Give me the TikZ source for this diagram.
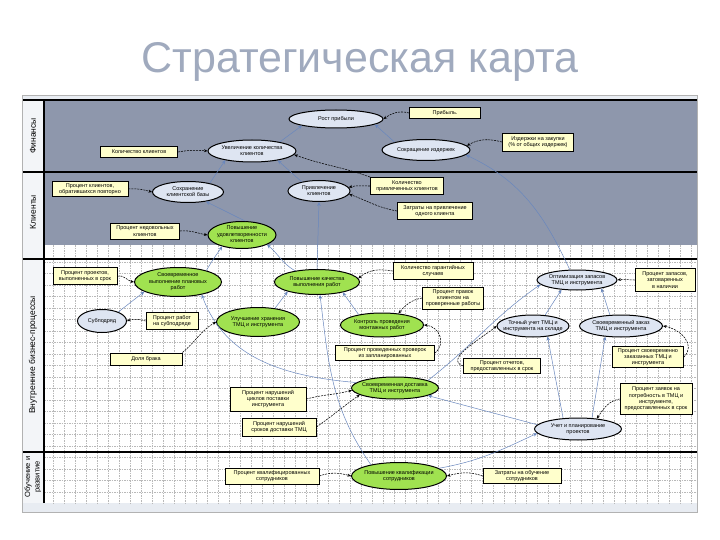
\documentclass[tikz,border=0pt]{standalone}
\usepackage{fontspec}
\setmainfont{Liberation Sans}
\usetikzlibrary{shapes.geometric,arrows.meta}
\definecolor{lanegray}{RGB}{142,151,172}
\definecolor{measfill}{RGB}{255,255,204}
\definecolor{objblue}{RGB}{222,229,242}
\definecolor{objgreen}{RGB}{160,226,80}
\definecolor{causeblue}{RGB}{105,135,190}
\definecolor{titlecol}{RGB}{160,170,190}
\definecolor{bandcol}{RGB}{232,236,242}
\definecolor{labcol}{RGB}{243,245,248}
\definecolor{gridcol}{RGB}{185,185,185}
\newcommand\ztxt[1]{\makebox[0pt]{\begin{tabular}{@{}c@{}}#1\end{tabular}}}
\begin{document}
\begin{tikzpicture}[x=1pt,y=-1pt,
  every node/.style={font=\fontsize{5.5}{6.3}\selectfont},
  objb/.style={ellipse, draw=black, line width=1pt, fill=objblue, inner sep=0pt},
  objg/.style={ellipse, draw=black, line width=1pt, fill=objgreen, inner sep=0pt},
  meas/.style={rectangle, draw=black, line width=0.9pt, fill=measfill, inner sep=0.5pt, align=center},
  cause/.style={draw=causeblue, line width=0.5pt, -{Stealth[length=4pt,width=3.5pt]}},
  mline/.style={draw=black, line width=0.55pt, dash pattern=on 2pt off 1pt, -{Stealth[length=3.5pt,width=3pt]}},
  lanelab/.style={rotate=90, font=\fontsize{8.5}{10}\selectfont, align=center},
  gridline/.style={draw=gridcol, line width=0.4pt, dash pattern=on 1.5pt off 1pt},
]
\useasboundingbox (0,0) rectangle (720,540);
\fill[white] (0,0) rectangle (720,540);
% title
\node[font=\fontsize{43}{48}\selectfont, text=titlecol] (title) at (360,62) {Стратегическая карта};
% backgrounds
\fill[bandcol] (22,95) rectangle (697,100);
\fill[bandcol] (22,503) rectangle (697,512);
\fill[labcol] (22,100) rectangle (44,503);
\fill[lanegray] (44,100) rectangle (697,245);
% grid
\foreach \gx in {53,64,...,696} \draw[gridline] (\gx,245) -- (\gx,503);
\foreach \gy in {262,273.5,...,502} \draw[gridline] (44,\gy) -- (697,\gy);
% separators
\draw[line width=1.8pt] (22,100) -- (697,100);
\draw[line width=1.8pt] (22,172) -- (697,172);
\draw[line width=1.8pt] (22,259) -- (697,259);
\draw[line width=1.8pt] (22,452) -- (697,452);
\draw[line width=1.4pt] (44,100) -- (44,503);
\draw[gray!60, line width=0.4pt] (22,95) rectangle (697,512);
% lane labels
\node[lanelab] (lFin) at (33,136) {Финансы};
\node[lanelab] (lKl) at (33,212) {Клиенты};
\node[lanelab] (lVn) at (33,355) {Внутренние бизнес-процессы};
\node[lanelab, font=\fontsize{7.5}{9.5}\selectfont] (lOb) at (33,477) {Обучение и\\развитие};
% objectives
\node[objb, minimum width=94pt, minimum height=18pt] (rost) at (336,119) {\ztxt{Рост прибыли}};
\node[objb, minimum width=88pt, minimum height=22pt] (uvel) at (252,151) {\ztxt{Увеличение количества\\клиентов}};
\node[objb, minimum width=88pt, minimum height=21pt] (sokr) at (426,150) {\ztxt{Сокращение издержек}};
\node[objb, minimum width=71pt, minimum height=21pt] (sohr) at (188,192) {\ztxt{Сохранение\\клиентской базы}};
\node[objb, minimum width=62pt, minimum height=21pt] (priv) at (319,191) {\ztxt{Привлечение\\клиентов}};
\node[objg, minimum width=68pt, minimum height=27pt] (udov) at (242,235) {\ztxt{Повышение\\удовлетворенности\\клиентов}};
\node[objg, minimum width=87pt, minimum height=29pt] (svvyp) at (178,282) {\ztxt{Своевременное\\выполнение плановых\\работ}};
\node[objb, minimum width=49pt, minimum height=23pt] (subp) at (102,321) {\ztxt{Субподряд}};
\node[objg, minimum width=83pt, minimum height=29pt] (hran) at (258,322) {\ztxt{Улучшение хранения\\ТМЦ и инструмента}};
\node[objg, minimum width=85pt, minimum height=25pt] (kach) at (317,282) {\ztxt{Повышение качества\\выполнения работ}};
\node[objg, minimum width=83pt, minimum height=24pt] (kontr) at (382,325) {\ztxt{Контроль проведения\\монтажных работ}};
\node[objb, minimum width=80pt, minimum height=20pt] (opt) at (577,280) {\ztxt{Оптимизация запасов\\ТМЦ и инструмента}};
\node[objb, minimum width=72pt, minimum height=22pt] (uchet) at (533,326) {\ztxt{Точный учет ТМЦ и\\инструмента на складе}};
\node[objb, minimum width=83pt, minimum height=22pt] (zakaz) at (621,326) {\ztxt{Своевременный заказ\\ТМЦ и инструмента}};
\node[objg, minimum width=87pt, minimum height=22pt] (dost) at (395,388) {\ztxt{Своевременная доставка\\ТМЦ и инструмента}};
\node[objb, minimum width=87pt, minimum height=22pt] (plan) at (578,429) {\ztxt{Учет и планирование\\проектов}};
\node[objg, minimum width=95pt, minimum height=27pt] (kval) at (399,476) {\ztxt{Повышение квалификации\\сотрудников}};
% measures
\node[meas, minimum width=71pt, minimum height=11pt] (mPrib) at (445,113) {Прибыль.};
\node[meas, minimum width=77pt, minimum height=11pt] (mKolKl) at (139,152) {Количество клиентов};
\node[meas, minimum width=71pt, minimum height=18pt] (mIzd) at (538,142) {Издержки на закупки\\(\% от общих издержек)};
\node[meas, minimum width=76pt, minimum height=15pt] (mPovt) at (90,189) {Процент клиентов,\\обратившихся повторно};
\node[meas, minimum width=73pt, minimum height=17pt] (mKolPriv) at (407,186) {Количество\\привлеченных клиентов};
\node[meas, minimum width=75pt, minimum height=17pt] (mZatrPriv) at (435,211) {Затраты на привлечение\\одного клиента};
\node[meas, minimum width=69pt, minimum height=16pt] (mNedov) at (145,231) {Процент недовольных\\клиентов};
\node[meas, minimum width=64pt, minimum height=17pt] (mSrok) at (85,276) {Процент проектов,\\выполненных в срок};
\node[meas, minimum width=52pt, minimum height=17pt] (mSubp) at (172,321) {Процент работ\\на субподряде};
\node[meas, minimum width=72pt, minimum height=12pt] (mBrak) at (146,359) {Доля брака};
\node[meas, minimum width=80pt, minimum height=17pt] (mGar) at (433,271) {Количество гарантийных\\случаев};
\node[meas, minimum width=61pt, minimum height=22pt] (mPravok) at (453,298) {Процент правок\\клиентом на\\проверенные работы};
\node[meas, minimum width=99pt, minimum height=15pt] (mProv) at (385,353) {Процент проведенных проверок\\из запланированных};
\node[meas, minimum width=60pt, minimum height=23pt] (mZap) at (665,280) {Процент запасов,\\затоваренных\\в наличии};
\node[meas, minimum width=71pt, minimum height=21pt] (mZak) at (648,357) {Процент своевременно\\заказанных ТМЦ и\\инструмента};
\node[meas, minimum width=77pt, minimum height=15pt] (mOtch) at (502,366) {Процент отчетов,\\предоставленных в срок};
\node[meas, minimum width=76pt, minimum height=24pt] (mCikl) at (268,399) {Процент нарушений\\циклов поставки\\инструмента};
\node[meas, minimum width=74pt, minimum height=18pt] (mSrDost) at (279,427) {Процент нарушений\\сроков доставки ТМЦ};
\node[meas, minimum width=72pt, minimum height=31pt] (mZayav) at (656,399) {Процент заявок на\\потребность в ТМЦ и\\инструменте,\\предоставленных в срок};
\node[meas, minimum width=94pt, minimum height=16pt] (mKval) at (272,476) {Процент квалифицированных\\сотрудников};
\node[meas, minimum width=78pt, minimum height=15pt] (mObuch) at (522,476) {Затраты на обучение\\сотрудников};
% cause-effect links
\draw[cause] (uvel.18) -- (rost.191);
\draw[cause] (sokr.166) -- (rost.352);
\draw[cause] (sohr.22) -- (uvel.199);
\draw[cause] (priv.152) -- (uvel.340);
\draw[cause] (udov.77) -- (sohr.332);
\draw[cause] (opt.125) to[out=115,in=335] (sokr.353);
\draw[cause] (kach.153) to[out=150,in=320] (udov.339);
\draw[cause] (svvyp.22) to[out=60,in=235] (udov.210);
\draw[cause] (kach.north) -- (priv.south);
\draw[cause] (subp.29) -- (svvyp.196);
\draw[cause] (hran.39) -- (kach.198);
\draw[cause] (kontr.156) -- (kach.338);
\draw[cause] (kval.158) to[out=125,in=277] (kach.283);
\draw[cause] (uchet.42) -- (opt.212);
\draw[cause] (zakaz.135) -- (opt.341);
\draw[cause] (plan.144) -- (uchet.324);
\draw[cause] (plan.38) -- (zakaz.214);
\draw[cause] (dost.13) to[out=38,in=215] (opt.187);
\draw[cause] (dost.172) to[out=175,in=290] (svvyp.332);
\draw[cause] (kval.11) to[out=10,in=205] (plan.186);
\draw[cause] (plan.174) -- (dost.347);
% measure links
\draw[mline] (mPrib.west) to[out=165,in=35] (rost.east);
\draw[mline] (mIzd.west) to[out=165,in=30] (sokr.6);
\draw[mline] (mKolKl.east) to[out=10,in=175] (uvel.west);
\draw[mline] (mPovt.east) to[out=5,in=165] (sohr.west);
\draw[mline] (mNedov.east) to[out=5,in=170] (udov.west);
\draw[mline] (mKolPriv.west) to[out=180,in=15] (priv.7);
\draw[mline] (mKolPriv.north west) to[out=160,in=-20] (uvel.355);
\draw[mline] (mZatrPriv.west) to[out=170,in=-20] (priv.354);
\draw[mline] (mSrok.east) to[out=10,in=170] (svvyp.west);
\draw[mline] (mSubp.west) to[out=165,in=20] (subp.east);
\draw[mline] (mBrak.north east) to[out=40,in=210] (hran.west);
\draw[mline] (mGar.west) to[out=170,in=40] (kach.5);
\draw[mline] (mPravok.west) to[out=190,in=50] (kontr.35);
\draw[mline] (mProv.east) to[out=40,in=-5,looseness=1.3] (kontr.east);
\draw[mline] (mZap.west) to[out=180,in=10] (opt.east);
\draw[mline] (mZak.east) to[out=45,in=-10,looseness=1.2] (zakaz.east);
\draw[mline] (mOtch.west) to[out=160,in=220] (uchet.west);
\draw[mline] (mCikl.east) to[out=15,in=195] (dost.183);
\draw[mline] (mSrDost.east) to[out=35,in=215] (dost.191);
\draw[mline] (mZayav.west) to[out=190,in=55] (plan.29);
\draw[mline] (mKval.east) to[out=20,in=165] (kval.west);
\draw[mline] (mObuch.west) to[out=160,in=15] (kval.east);
\end{tikzpicture}
\end{document}
